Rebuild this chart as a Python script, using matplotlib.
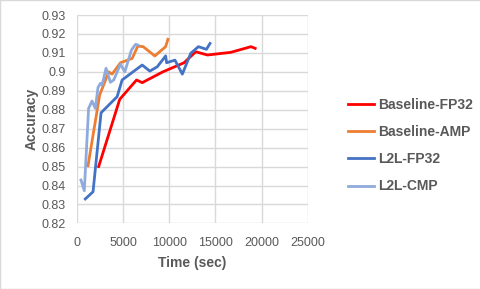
import matplotlib
matplotlib.use("Agg")
import matplotlib.pyplot as plt
from matplotlib.patches import Rectangle

# valeurs
base_fp32_t = [2350, 4630, 6450, 7065, 9300, 11590, 12860, 14130, 16660, 18840, 19300]
base_fp32_acc = [0.850, 0.8855, 0.8957, 0.8943, 0.9000, 0.9048, 0.9106, 0.9089, 0.9103, 0.9133, 0.9124]

base_amp_t = [1195, 2460, 3440, 3800, 4710, 5980, 6590, 7170, 8430, 9600, 9850]
base_amp_acc = [0.8504, 0.8878, 0.9000, 0.8988, 0.9048, 0.9071, 0.9136, 0.9133, 0.9084, 0.9133, 0.9172]

l2l_fp32_t = [900, 1740, 2610, 4350, 4890, 6340, 7065, 7890, 8700, 9600, 9710,
              10610, 11410, 12320, 13150, 14020, 14410]
l2l_fp32_acc = [0.8329, 0.8367, 0.8784, 0.8869, 0.8957, 0.9010, 0.9036, 0.9004, 0.9027,
                0.9084, 0.9048, 0.9062, 0.8988, 0.9098, 0.9133, 0.9119, 0.9150]

l2l_cmp_t = [435, 795, 1260, 1630, 1990, 2280, 2530, 2720, 3150, 3620, 3980,
             4710, 5180, 5900, 6340, 6590]
l2l_cmp_acc = [0.8429, 0.8372, 0.8807, 0.8846, 0.8807, 0.8918, 0.8939, 0.8930, 0.9019,
               0.8945, 0.8957, 0.9041, 0.9000, 0.9115, 0.9145, 0.9142]

y_ticks = [0.82, 0.83, 0.84, 0.85, 0.86, 0.87, 0.88, 0.89, 0.90, 0.91, 0.92, 0.93]
x_ticks = [0, 5000, 10000, 15000, 20000, 25000]

series = [
    ("Baseline-FP32", base_fp32_t, base_fp32_acc, "#ff0000"),
    ("Baseline-AMP", base_amp_t, base_amp_acc, "#ed7d31"),
    ("L2L-FP32", l2l_fp32_t, l2l_fp32_acc, "#4472c4"),
    ("L2L-CMP", l2l_cmp_t, l2l_cmp_acc, "#8faadc"),
]

plt.rcParams["font.family"] = ["Liberation Sans", "DejaVu Sans"]

fig = plt.figure(figsize=(4.81, 2.89), dpi=100)
fig.patches.append(Rectangle((0, 0), 1, 1, transform=fig.transFigure,
                             fill=False, edgecolor="#d9d9d9", lw=1))
ax = fig.add_axes([0.160, 0.227, 0.480, 0.721])

for nom, t, acc, couleur in series:
    ax.plot(t, acc, color=couleur, lw=2, label=nom, solid_joinstyle="round")

ax.set_xlim(0, 25000)
ax.set_ylim(0.82, 0.93)
ax.set_xticks(x_ticks)
ax.set_yticks(y_ticks)
ax.set_yticklabels([f"{round(v, 2):g}" for v in y_ticks])
ax.grid(True, color="#d9d9d9", lw=1)
ax.set_axisbelow(True)
for spine in ax.spines.values():
    spine.set_visible(False)
ax.tick_params(length=0, labelsize=9, colors="#595959")
ax.tick_params(axis="x", pad=10)
ax.tick_params(axis="y", pad=8)

ax.set_xlabel("Time (sec)", fontsize=10, fontweight="bold", color="#595959", labelpad=5)
ax.set_ylabel("Accuracy", fontsize=10, fontweight="bold", color="#595959", labelpad=2)

leg = ax.legend(loc="center left", bbox_to_anchor=(1.118, 0.373), frameon=False,
                prop={"weight": "bold", "size": 10}, handlelength=1.9,
                handletextpad=0.3, labelspacing=0.95)
for txt in leg.get_texts():
    txt.set_color("#595959")

plt.savefig("out.png", dpi=100)
